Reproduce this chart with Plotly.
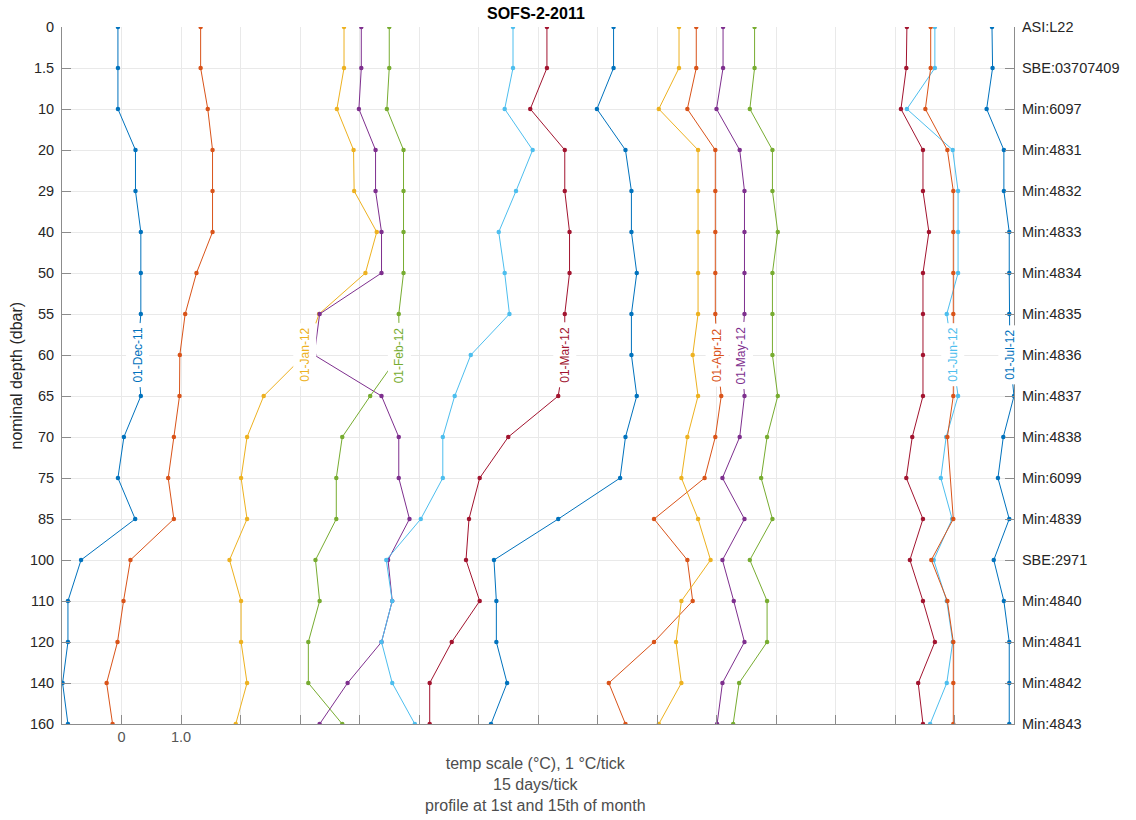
import plotly.graph_objects as go

# ---------------- data ----------------
depths = ["0", "1.5", "10", "20", "29", "40", "50", "55", "60", "65",
          "70", "75", "85", "100", "110", "120", "140", "160"]
instruments = ["ASI:L22", "SBE:03707409", "Min:6097", "Min:4831", "Min:4832",
               "Min:4833", "Min:4834", "Min:4835", "Min:4836", "Min:4837",
               "Min:4838", "Min:6099", "Min:4839", "SBE:2971", "Min:4840",
               "Min:4841", "Min:4842", "Min:4843"]

profile_dates = ["01-Dec-11", "15-Dec-11", "01-Jan-12", "15-Jan-12",
                 "01-Feb-12", "15-Feb-12", "01-Mar-12", "15-Mar-12",
                 "01-Apr-12", "15-Apr-12", "01-May-12", "15-May-12",
                 "01-Jun-12", "15-Jun-12", "01-Jul-12", "15-Jul-12"]

# temperature on the plotted scale (1 degC per tick, offset by date)
t_01dec11 = [-0.06, -0.06, -0.06, 0.235, 0.235, 0.325, 0.325, 0.325, 0.27, 0.325,
             0.04, -0.06, 0.23, -0.68, -0.90, -0.90, -0.99, -0.90]
t_15dec11 = [1.33, 1.33, 1.45, 1.53, 1.53, 1.53, 1.26, 1.07, 0.98, 0.975,
             0.88, 0.785, 0.88, 0.15, 0.034, -0.067, -0.25, -0.15]
t_01jan12 = [3.74, 3.74, 3.62, 3.90, 3.91, 4.29, 4.10, 3.32, 3.08, 2.39,
             2.11, 2.01, 2.11, 1.815, 2.01, 2.01, 2.11, 1.92]
t_15jan12 = [4.03, 4.03, 3.99, 4.27, 4.27, 4.37, 4.37, 3.33, 3.24, 4.37,
             4.66, 4.66, 4.84, 4.48, 4.55, 4.37, 3.80, 3.33]
t_01feb12 = [4.50, 4.50, 4.46, 4.74, 4.74, 4.74, 4.74, 4.66, 4.67, 4.18,
             3.71, 3.61, 3.61, 3.26, 3.33, 3.14, 3.14, 3.71]
t_15feb12 = [6.58, 6.58, 6.44, 6.91, 6.63, 6.34, 6.44, 6.52, 5.87, 5.60,
             5.40, 5.40, 5.03, 4.45, 4.55, 4.37, 4.55, 4.93]
t_01mar12 = [7.15, 7.15, 6.87, 7.45, 7.45, 7.53, 7.53, 7.45, 7.45, 7.34,
             6.50, 6.02, 5.84, 5.79, 6.02, 5.55, 5.18, 5.18]
t_15mar12 = [8.27, 8.27, 7.99, 8.47, 8.57, 8.57, 8.66, 8.57, 8.57, 8.66,
             8.47, 8.38, 7.34, 6.26, 6.30, 6.30, 6.48, 6.21]
t_01apr12 = [9.66, 9.66, 9.51, 9.98, 9.98, 9.98, 9.98, 9.98, 10.01, 10.08,
             9.98, 9.80, 8.95, 9.51, 9.60, 8.95, 8.19, 8.47]
t_15apr12 = [9.37, 9.37, 9.03, 9.69, 9.69, 9.69, 9.69, 9.69, 9.60, 9.69,
             9.51, 9.41, 9.69, 9.90, 9.41, 9.32, 9.41, 9.03]
t_01may12 = [10.11, 10.11, 10.00, 10.39, 10.47, 10.47, 10.47, 10.47, 10.42, 10.47,
             10.39, 10.10, 10.47, 10.10, 10.29, 10.47, 10.10, 10.01]
t_15may12 = [10.64, 10.64, 10.56, 10.94, 10.94, 11.03, 10.94, 10.94, 10.94, 11.03,
             10.85, 10.75, 10.94, 10.56, 10.85, 10.85, 10.38, 10.28]
t_01jun12 = [13.67, 13.67, 13.20, 13.97, 14.06, 14.06, 14.06, 13.87, 13.97, 14.06,
             13.86, 13.77, 13.96, 13.65, 13.87, 13.97, 13.87, 13.59]
t_15jun12 = [13.20, 13.19, 13.10, 13.47, 13.47, 13.57, 13.47, 13.47, 13.47, 13.47,
             13.29, 13.19, 13.47, 13.25, 13.47, 13.67, 13.39, 13.47]
t_01jul12 = [14.63, 14.64, 14.54, 14.83, 14.83, 14.92, 14.92, 14.92, 14.93, 15.00,
             14.82, 14.73, 14.92, 14.66, 14.83, 14.92, 14.92, 14.92]
t_15jul12 = [13.60, 13.60, 13.51, 13.88, 13.98, 13.98, 13.98, 13.98, 13.98, 13.98,
             13.88, None, 13.98, 13.61, 13.88, 13.98, 13.98, 13.98]

x_tick_values = list(range(-1, 16))
x_tick_text = ["", "0", "1.0"] + [""] * 14
label_depth = "60"

# ---------------- styling ----------------
profiles = [t_01dec11, t_15dec11, t_01jan12, t_15jan12, t_01feb12, t_15feb12,
            t_01mar12, t_15mar12, t_01apr12, t_15apr12, t_01may12, t_15may12,
            t_01jun12, t_15jun12, t_01jul12, t_15jul12]
matlab_colors = ["#0072BD", "#D95319", "#EDB120", "#7E2F8E",
                 "#77AC30", "#4DBEEE", "#A2142F"]
FONT = "Liberation Sans, Arial, Helvetica, sans-serif"
AXIS_GRAY = "#8c8c8c"
GRID = "#e9e9e9"
depth_index = list(range(len(depths)))
label_row = depths.index(label_depth)

fig = go.Figure()
annotations = []
for i, (date, temps) in enumerate(zip(profile_dates, profiles)):
    col = matlab_colors[i % len(matlab_colors)]
    fig.add_trace(go.Scatter(
        x=temps, y=depth_index, mode="lines+markers", name=date,
        line=dict(color=col, width=1), marker=dict(color=col, size=4.5),
        connectgaps=True, showlegend=False, hoverinfo="x+y+name"))
    if date.startswith("01"):
        annotations.append(dict(
            x=temps[label_row], y=label_row, xref="x", yref="y",
            text=date, textangle=-90, showarrow=False,
            font=dict(family=FONT, size=12, color=col),
            bgcolor="white", borderpad=4, xanchor="center", yanchor="middle"))

# dummy trace so the right-hand axis is drawn
fig.add_trace(go.Scatter(x=[0], y=[0], yaxis="y2", mode="markers",
                         marker=dict(opacity=0), showlegend=False, hoverinfo="skip"))

annotations += [
    dict(text="<b>SOFS-2-2011</b>", xref="paper", yref="paper", x=0.498, y=1,
         yshift=14, showarrow=False, xanchor="center", yanchor="middle",
         font=dict(family=FONT, size=16, color="#000000")),
    dict(text="nominal depth (dbar)", xref="paper", yref="paper", x=0, y=0.5,
         xshift=-46, textangle=-90, showarrow=False, xanchor="center", yanchor="middle",
         font=dict(family=FONT, size=16, color="#262626")),
    dict(text="temp scale (\u00b0C), 1 \u00b0C/tick<br>15 days/tick<br>profile at 1st and 15th of month",
         xref="paper", yref="paper", x=0.497, y=0, yshift=-29, showarrow=False,
         xanchor="center", yanchor="top", align="center",
         font=dict(family=FONT, size=16, color="#4d4d4d")),
]

fig.update_layout(
    width=1136, height=820,
    margin=dict(l=62, r=122, t=27, b=96, pad=0),
    paper_bgcolor="white", plot_bgcolor="white",
    font=dict(family=FONT, size=14.5, color="#262626"),
    showlegend=False,
    annotations=annotations,
    xaxis=dict(range=[-1, 15], tickmode="array", tickvals=x_tick_values,
               ticktext=x_tick_text, ticks="inside", ticklen=9, tickwidth=1,
               tickcolor=AXIS_GRAY, showline=True, linecolor=AXIS_GRAY, linewidth=1,
               showgrid=True, gridcolor=GRID, gridwidth=1, zeroline=False,
               tickfont=dict(family=FONT, size=14.5, color="#555555")),
    yaxis=dict(range=[len(depths) - 1, 0], tickmode="array", tickvals=depth_index,
               ticktext=depths, ticks="inside", ticklen=9, tickwidth=1,
               tickcolor=AXIS_GRAY, showline=True, linecolor=AXIS_GRAY, linewidth=1,
               showgrid=True, gridcolor=GRID, gridwidth=1, zeroline=False,
               ticklabelstandoff=4,
               tickfont=dict(family=FONT, size=14.5, color="#262626")),
    yaxis2=dict(range=[len(depths) - 1, 0], overlaying="y", side="right", anchor="x",
                tickmode="array", tickvals=depth_index, ticktext=instruments,
                ticks="inside", ticklen=9, tickwidth=1, tickcolor=AXIS_GRAY,
                showline=True, linecolor=AXIS_GRAY, linewidth=1,
                showgrid=False, zeroline=False, ticklabelstandoff=4,
                tickfont=dict(family=FONT, size=14.5, color="#262626")),
)

fig.write_html("out.html")
